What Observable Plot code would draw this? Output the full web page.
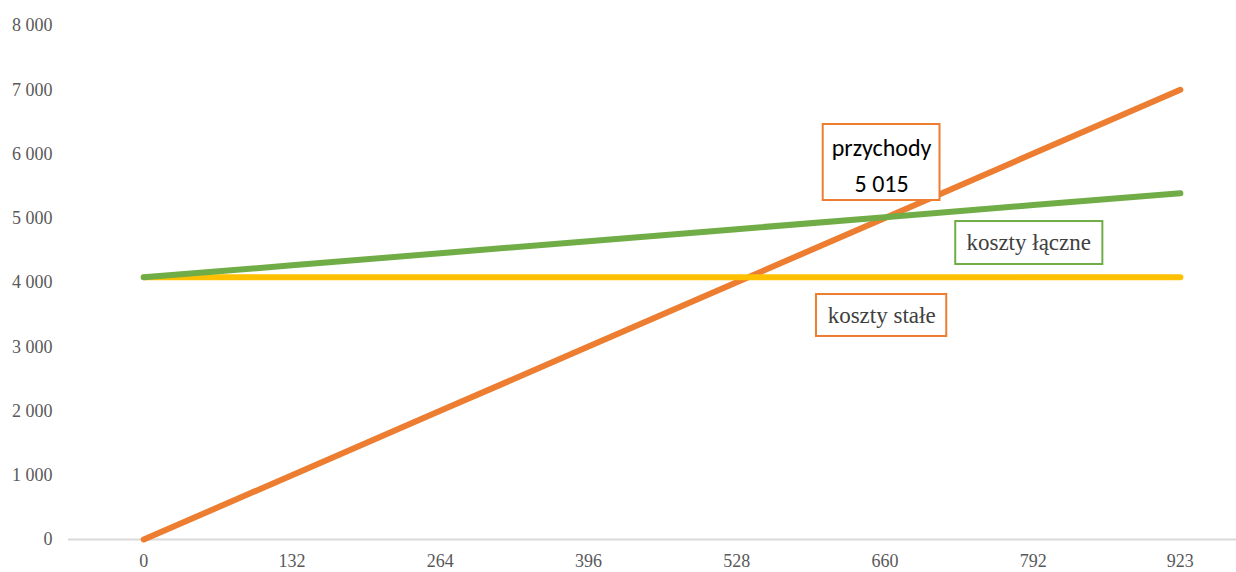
<!DOCTYPE html>
<html>
<head>
<meta charset="utf-8">
<script src="https://cdn.jsdelivr.net/npm/d3@7"></script>
<script src="https://cdn.jsdelivr.net/npm/@observablehq/plot@0.6"></script>
<style>
  html, body { margin: 0; padding: 0; background: #fff; }
  #chart svg { display: block; }
</style>
</head>
<body>
<div id="chart"></div>
<script>
// Break-even analysis: revenue vs. fixed and total costs by quantity
const quantities = [0, 132, 264, 396, 528, 660, 792, 923];
const revenue    = [0, 1001, 2002, 3003, 4004, 5005, 6006, 7000];
const fixedCosts = [4080, 4080, 4080, 4080, 4080, 4080, 4080, 4080];
const totalCosts = [4080, 4267, 4455, 4642, 4830, 5017, 5205, 5390];
const yTicks = [0, 1000, 2000, 3000, 4000, 5000, 6000, 7000, 8000];
const breakEvenRevenue = 5015;

const series = (values) => quantities.map((q, i) => ({q, v: values[i]}));

const fmt = (n) => d3.format(",")(n).replace(/,/g, " ");

const ORANGE = "#ED7D31", GREEN = "#70AD47", YELLOW = "#FFC000";
const SERIF = "'Liberation Serif', 'Times New Roman', serif";
const SANS = "Carlito, 'Open Sans', 'Liberation Sans', sans-serif";

const boxes = [
  {x1: 605, x2: 709, y1: 5276, y2: 6459, stroke: ORANGE},
  {x1: 723, x2: 854, y1: 4280, y2: 4949, stroke: GREEN},
  {x1: 599, x2: 715, y1: 3160, y2: 3813, stroke: ORANGE}
];

const chart = Plot.plot({
  width: 1236,
  height: 572,
  marginLeft: 68,
  marginRight: 0,
  marginTop: 25,
  marginBottom: 33,
  style: {background: "#fff"},
  x: {domain: [-67, 973], axis: null},
  y: {domain: [0, 8000], axis: null},
  marks: [
    // baseline
    Plot.ruleY([0], {stroke: "#D9D9D9", strokeWidth: 2}),
    // y tick labels
    Plot.text(yTicks, {
      x: -67, y: d => d, text: d => fmt(d), textAnchor: "end", dx: -16,
      fontFamily: SERIF, fontSize: 18, fill: "#595959"
    }),
    // x tick labels
    Plot.text(quantities, {
      x: d => d, y: 0, text: d => String(d), dy: 22,
      fontFamily: SERIF, fontSize: 18, fill: "#595959"
    }),
    // lines
    Plot.line(series(revenue), {x: "q", y: "v", stroke: ORANGE, strokeWidth: 6, strokeLinecap: "round"}),
    Plot.line(series(fixedCosts), {x: "q", y: "v", stroke: YELLOW, strokeWidth: 6, strokeLinecap: "round"}),
    Plot.line(series(totalCosts), {x: "q", y: "v", stroke: GREEN, strokeWidth: 6, strokeLinecap: "round"}),
    // label boxes
    Plot.rect(boxes, {x1: "x1", x2: "x2", y1: "y1", y2: "y2", fill: "#fff", stroke: "stroke", strokeWidth: 2}),
    Plot.text(["przychody"], {x: 657, y: 6090, text: d => d, fontFamily: SANS, fontSize: 24, fill: "#000"}),
    Plot.text([breakEvenRevenue], {x: 657, y: 5530, text: d => fmt(d), fontFamily: SANS, fontSize: 24, fill: "#000"}),
    Plot.text(["koszty łączne"], {x: 788, y: 4615, text: d => d, fontFamily: SERIF, fontSize: 23, fill: "#404040"}),
    Plot.text(["koszty stałe"], {x: 657, y: 3486, text: d => d, fontFamily: SERIF, fontSize: 23, fill: "#404040"})
  ]
});

document.getElementById("chart").appendChild(chart);
</script>
</body>
</html>
